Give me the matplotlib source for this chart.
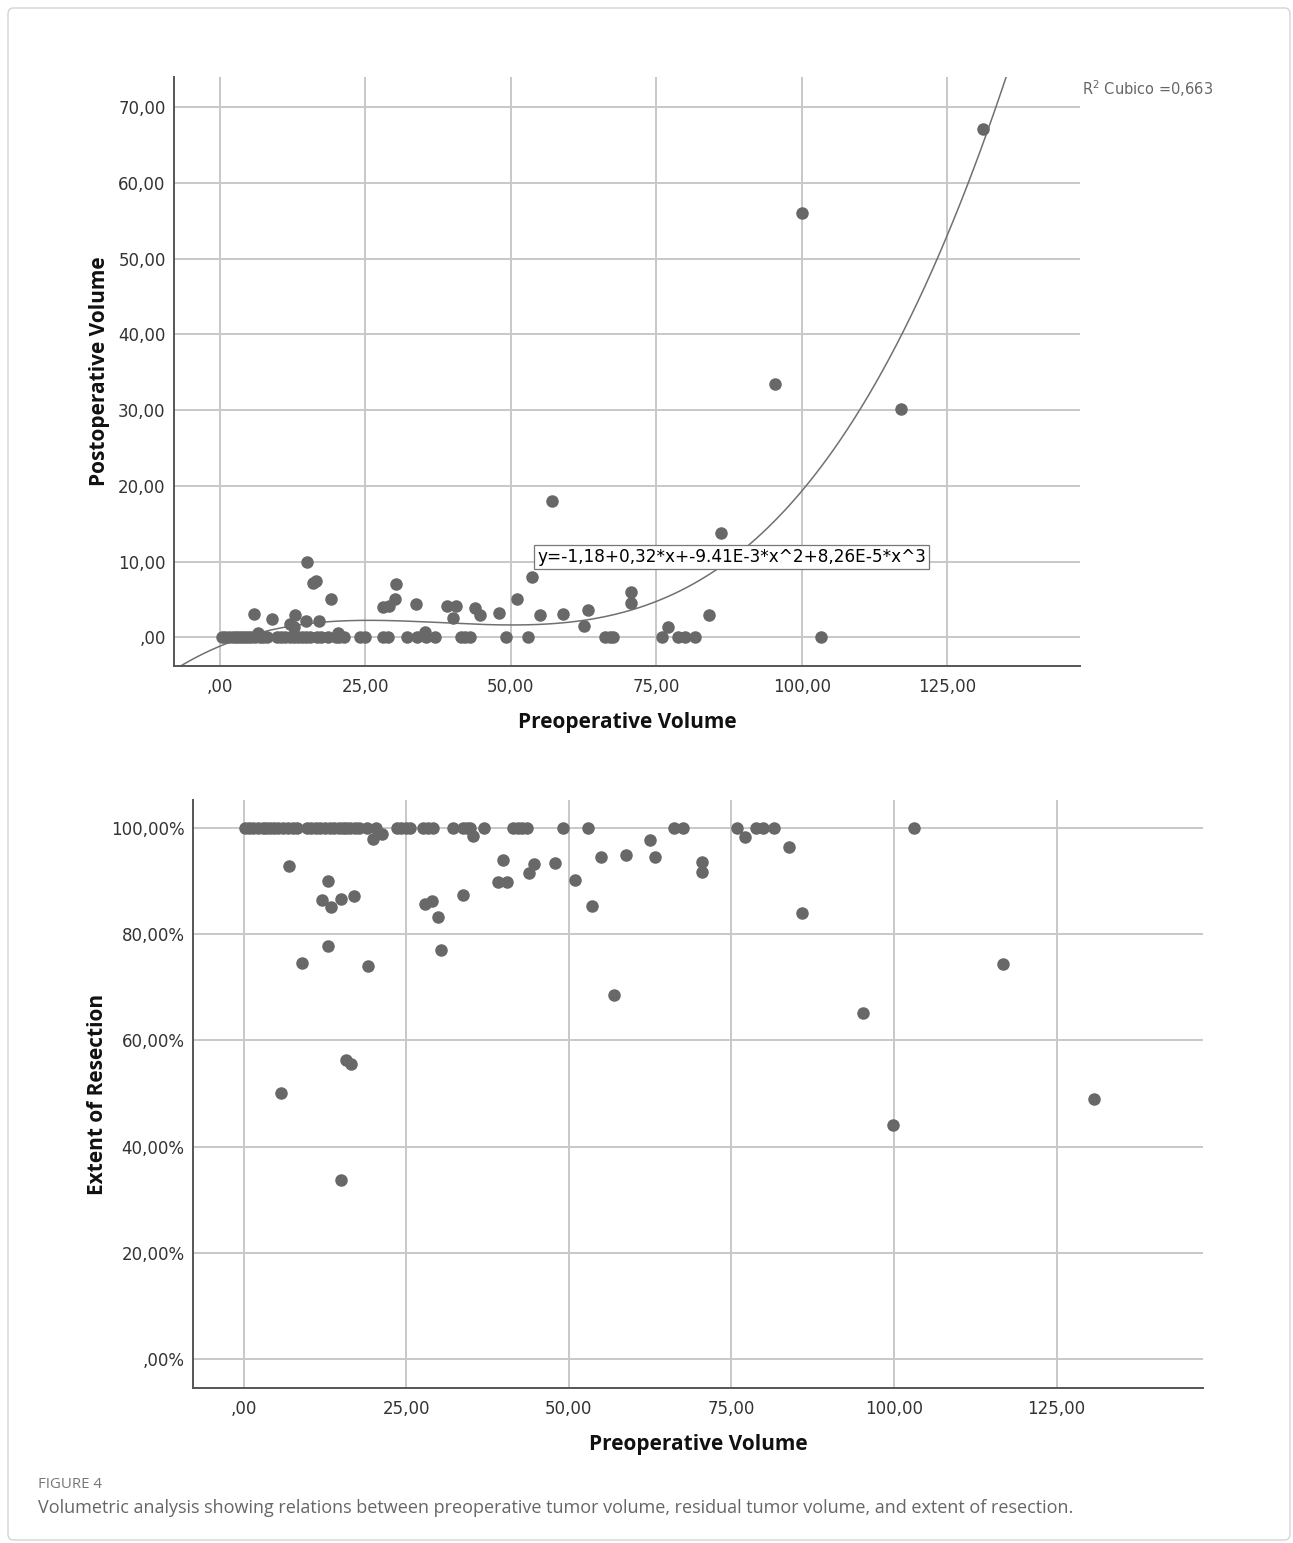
import numpy as np
import matplotlib
matplotlib.use("Agg")
from matplotlib import pyplot as plt
from matplotlib.patches import FancyBboxPatch

# top chart: preoperative vs postoperative volume
pre_zero = [0.3, 0.9, 1.5, 2.2, 2.8, 3.3, 3.8, 4.3, 4.8, 5.3, 6.0, 6.8, 7.4, 8.0,
            9.8, 10.5, 11.2, 12.0, 12.7, 13.4, 14.1, 14.8, 15.5, 16.6, 17.4, 18.6,
            19.9, 20.5, 21.3, 24.0, 25.0, 28.0, 28.8, 32.1, 33.9, 35.4, 37.0, 41.5,
            42.1, 43.0, 49.2, 53.0, 66.2, 67.0, 67.6, 76.0, 78.8, 79.9, 81.6, 103.3]
pre_pos = [5.9, 6.6, 8.9, 12.1, 12.7, 12.9, 14.8, 14.9, 16.0, 16.5, 17.0, 19.1, 20.3,
           28.1, 29.0, 30.0, 30.3, 33.7, 35.3, 39.1, 40.0, 40.5, 43.8, 44.7, 47.9,
           51.0, 53.6, 55.0, 57.0, 58.9, 62.5, 63.3, 70.6, 70.6, 77.0, 84.0, 86.1,
           95.4, 100.0, 117.0, 131.1]
post_pos = [3.1, 0.6, 2.4, 1.7, 1.4, 3.0, 2.1, 10.0, 7.1, 7.4, 2.2, 5.0, 0.5,
            4.0, 4.1, 5.1, 7.0, 4.35, 0.7, 4.1, 2.5, 4.15, 3.9, 3.0, 3.2,
            5.1, 7.9, 3.0, 18.0, 3.1, 1.5, 3.6, 4.5, 6.0, 1.35, 3.0, 13.8,
            33.4, 56.1, 30.1, 67.1]

# cubic fit shown on the chart
coef = [-1.18, 0.32, -9.41e-3, 8.26e-5]

# bottom chart: preoperative volume vs extent of resection
pre_full = [0.2, 0.8, 1.5, 2.2, 2.9, 3.5, 4.1, 4.7, 5.3, 6.0, 6.8, 7.5, 8.2, 9.7, 10.4,
            11.1, 11.8, 12.5, 13.2, 13.9, 14.6, 15.2, 15.8, 16.4, 17.1, 17.8, 18.9,
            20.4, 23.5, 24.2, 25.0, 25.5, 27.5, 28.3, 29.1, 32.2, 33.7, 34.3, 34.8,
            36.9, 41.4, 42.1, 42.8, 43.5, 49.1, 52.9, 66.2, 67.5, 75.9, 78.7, 79.9,
            81.5, 103.1]
pre_part = [5.8, 6.9, 8.9, 12.1, 12.9, 12.9, 13.4, 14.9, 14.9, 15.8, 16.5, 16.9, 19.1,
            19.9, 21.2, 27.9, 29.0, 29.9, 30.3, 33.7, 35.3, 39.1, 39.9, 40.5, 43.8,
            44.6, 47.9, 50.9, 53.5, 54.9, 57.0, 58.8, 62.4, 63.2, 70.5, 70.5, 77.0,
            83.9, 85.9, 95.2, 99.8, 116.8, 130.8]
eor_part = [50.1, 92.9, 74.5, 86.4, 90.0, 77.8, 85.2, 86.7, 33.7, 56.3, 55.6, 87.2, 74.1,
            98.0, 98.9, 85.7, 86.3, 83.3, 77.0, 87.4, 98.6, 89.9, 93.9, 89.9, 91.6,
            93.3, 93.5, 90.2, 85.3, 94.5, 68.5, 95.0, 97.7, 94.5, 93.7, 91.7, 98.4,
            96.5, 84.1, 65.2, 44.1, 74.4, 49.0]

x_ticks = [0, 25, 50, 75, 100, 125]
x_labels = [",00", "25,00", "50,00", "75,00", "100,00", "125,00"]
y1_ticks = [0, 10, 20, 30, 40, 50, 60, 70]
y1_labels = [",00", "10,00", "20,00", "30,00", "40,00", "50,00", "60,00", "70,00"]
y2_ticks = [0, 20, 40, 60, 80, 100]
y2_labels = [",00%", "20,00%", "40,00%", "60,00%", "80,00%", "100,00%"]

DOT = "#686868"
GRID = "#c8c8c8"
AXIS = "#555555"
LABEL = dict(fontsize=15, fontweight="bold", family="Open Sans", color="#111111")

fig = plt.figure(figsize=(12.93, 15.43), dpi=100)
fig.patches.append(FancyBboxPatch((8 / 1293, 3 / 1543), 1282 / 1293, 1532 / 1543,
                                  boxstyle="round,pad=0,rounding_size=0.004",
                                  transform=fig.transFigure, fill=False,
                                  edgecolor="#d4d4d4", linewidth=1.0))


def style(ax):
    ax.grid(True, color=GRID, linewidth=1.4)
    ax.set_axisbelow(True)
    for s in ["top", "right"]:
        ax.spines[s].set_visible(False)
    for s in ["left", "bottom"]:
        ax.spines[s].set_color(AXIS)
        ax.spines[s].set_linewidth(1.4)
    ax.tick_params(length=0, labelsize=12, labelcolor="#333333")
    ax.tick_params(axis="x", pad=9)
    ax.tick_params(axis="y", pad=6)


ax1 = fig.add_axes([174 / 1293, 1 - 666 / 1543, 906 / 1293, 589 / 1543])
style(ax1)
ax1.scatter(pre_zero, [0] * len(pre_zero), s=64, color=DOT, zorder=3)
ax1.scatter(pre_pos, post_pos, s=64, color=DOT, zorder=3)
xs = np.linspace(-10, 150, 400)
ax1.plot(xs, np.polyval(coef[::-1], xs), color="#707070", linewidth=1.1, zorder=2)
ax1.set_xlim(-7.9, 147.8)
ax1.set_ylim(-3.8, 74)
ax1.set_xticks(x_ticks, x_labels)
ax1.set_yticks(y1_ticks, y1_labels)
ax1.set_xlabel("Preoperative Volume", labelpad=11, **LABEL)
ax1.set_ylabel("Postoperative Volume", labelpad=6, **LABEL)
ax1.text(54.5, 10.6, "y=-1,18+0,32*x+-9.41E-3*x^2+8,26E-5*x^3", fontsize=12.2,
         va="center", ha="left", zorder=5,
         bbox=dict(boxstyle="square,pad=0.2", facecolor="white", edgecolor="#777777",
                   linewidth=0.9))
fig.text(1082 / 1293, 1 - 89 / 1543, "R$^2$ Cubico =0,663", fontsize=10.5,
         color="#666666", va="center", ha="left")

ax2 = fig.add_axes([193 / 1293, 1 - 1388 / 1543, 1010 / 1293, 588 / 1543])
style(ax2)
ax2.scatter(pre_full, [100] * len(pre_full), s=64, color=DOT, zorder=3)
ax2.scatter(pre_part, eor_part, s=64, color=DOT, zorder=3)
ax2.set_xlim(-7.8, 147.5)
ax2.set_ylim(-5.5, 105.3)
ax2.set_xticks(x_ticks, x_labels)
ax2.set_yticks(y2_ticks, y2_labels)
ax2.set_xlabel("Preoperative Volume", labelpad=11, **LABEL)
ax2.set_ylabel("Extent of Resection", labelpad=2, **LABEL)

fig.text(38 / 1293, 1 - 1485 / 1543, "FIGURE 4", fontsize=10.8, color="#777777",
         family="Open Sans", va="center")
fig.text(38 / 1293, 1 - 1508 / 1543,
         "Volumetric analysis showing relations between preoperative tumor volume, "
         "residual tumor volume, and extent of resection.",
         fontsize=13, color="#666666", family="Open Sans", va="center")

fig.savefig("out.png", dpi=100)
